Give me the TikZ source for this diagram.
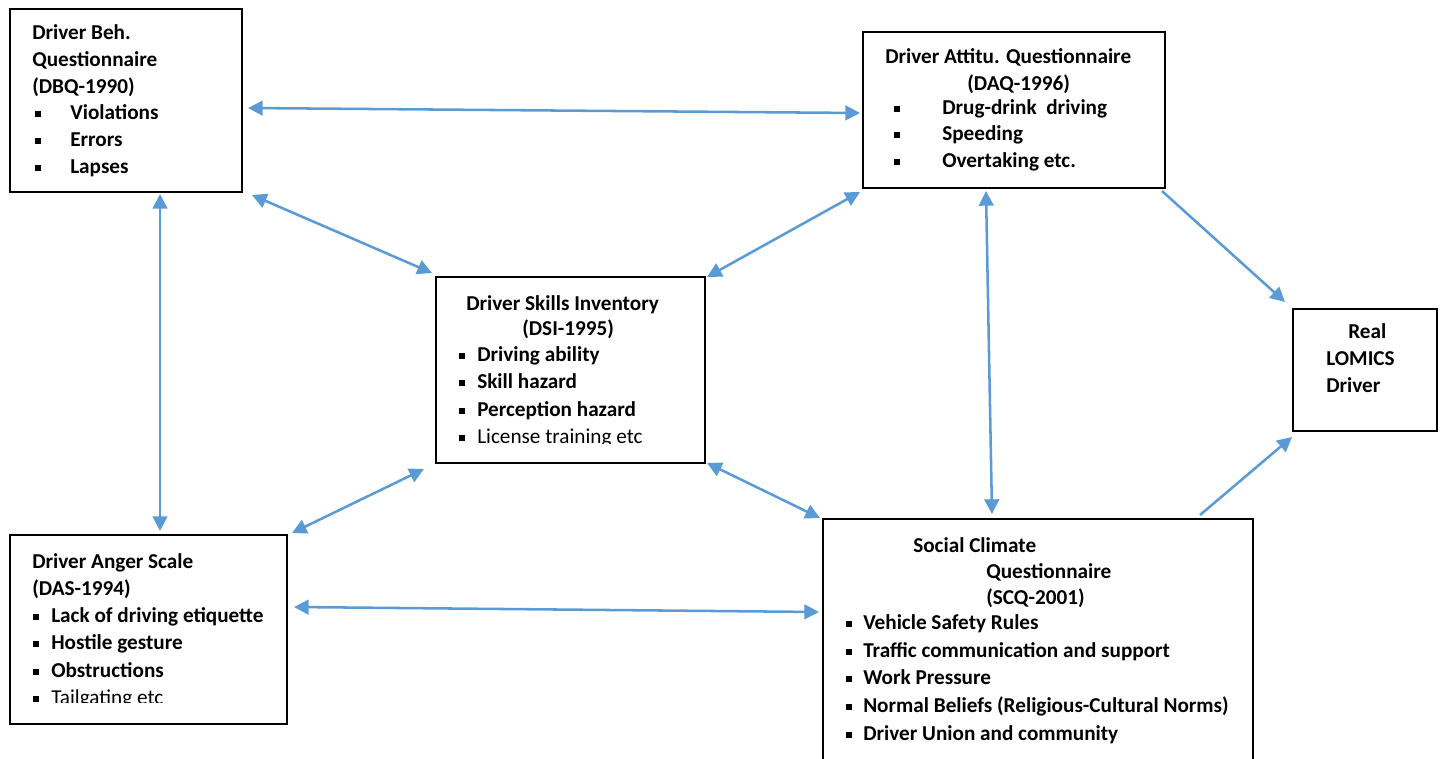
\documentclass[tikz,border=0pt]{standalone}
\usepackage{fontspec}
\setmainfont{Carlito}
\usetikzlibrary{arrows.meta,calc}
\definecolor{linkblue}{HTML}{5B9BD5}
\begin{document}
\begin{tikzpicture}[x=0.75pt,y=-0.75pt,
  box/.style={draw=black, line width=2pt, rectangle, anchor=north west,
    inner sep=0pt, outer sep=0pt},
  txt/.style={anchor=base west, inner sep=0pt, font=\bfseries\fontsize{15.9}{18}\selectfont},
  txtr/.style={anchor=base west, inner sep=0pt, font=\fontsize{15.9}{18}\selectfont},
  bul/.style={fill=black, rectangle, minimum size=4.8pt, inner sep=0pt},
  link/.style={draw=linkblue, line width=1.9pt,
    {Triangle[length=11pt,width=11pt]}-{Triangle[length=11pt,width=11pt]}},
  onelink/.style={draw=linkblue, line width=1.9pt, -{Triangle[length=11pt,width=11pt]}}]
\useasboundingbox (0,0) rectangle (1445,758);
\clip (0,0) rectangle (1445,758);

% boxes
\node[box, minimum width=174pt, minimum height=137.25pt] (dbq) at (10,9) {};
\node[box, minimum width=226.5pt, minimum height=117pt] (daq) at (863,32) {};
\node[box, minimum width=201.75pt, minimum height=139.5pt] (dsi) at (436,277) {};
\node[box, minimum width=207.75pt, minimum height=141.75pt] (das) at (10,535) {};
\node[box, minimum width=322.5pt, minimum height=195pt] (scq) at (823,519) {};
\node[box, minimum width=108pt, minimum height=91.5pt] (real) at (1293,309) {};

% Driver Behaviour Questionnaire
\node[txt] (dbq1) at (32,39) {Driver Beh.};
\node[txt] (dbq2) at (32,66) {Questionnaire};
\node[txt] (dbq3) at (32,93) {(DBQ-1990)};
\node[txt] (dbq4) at (70,119) {Violations};
\node[txt] (dbq5) at (70,146) {Errors};
\node[txt] (dbq6) at (70,173) {Lapses};
\foreach \yy [count=\i] in {119,146,173} \node[bul] (dbqb\i) at (38,\yy-5) {};

% Driver Attitude Questionnaire
\node[txt] (daq1) at (885,63) {Driver Attitu. Questionnaire};
\node[txt] (daq2) at (967,90) {(DAQ-1996)};
\node[txt] (daq3) at (942,114) {Drug-drink\ \ driving};
\node[txt] (daq4) at (942,140) {Speeding};
\node[txt] (daq5) at (942,167) {Overtaking etc.};
\foreach \yy [count=\i] in {114,140,167} \node[bul] (daqb\i) at (897,\yy-5) {};

% Driver Skills Inventory
\node[txt] (dsi1) at (466,310) {Driver Skills Inventory};
\node[txt] (dsi2) at (522,335) {(DSI-1995)};
\node[txt] (dsi3) at (477,361) {Driving ability};
\node[txt] (dsi4) at (477,388) {Skill hazard};
\node[txt] (dsi5) at (477,416) {Perception hazard};
\begin{scope}
  \clip (438,425) rectangle (703,443);
  \node[txtr] (dsi6) at (477,443) {License training etc};
\end{scope}
\foreach \yy [count=\i] in {361,388,416,443} \node[bul] (dsib\i) at (462,\yy-5) {};

% Driver Anger Scale
\node[txt] (das1) at (32,568) {Driver Anger Scale};
\node[txt] (das2) at (32,595) {(DAS-1994)};
\node[txt] (das3) at (51,622) {Lack of driving etiquette};
\node[txt] (das4) at (51,649) {Hostile gesture};
\node[txt] (das5) at (51,677) {Obstructions};
\begin{scope}
  \clip (12,684) rectangle (285,702);
  \node[txtr] (das6) at (51,704) {Tailgating etc};
\end{scope}
\foreach \yy [count=\i] in {622,649,677} \node[bul] (dasb\i) at (36,\yy-5) {};
\node[bul] (dasb4) at (36,699) {};

% Social Climate Questionnaire
\node[txt] (scq1) at (913,552) {Social Climate};
\node[txt] (scq2) at (986,578) {Questionnaire};
\node[txt] (scq3) at (986,604) {(SCQ-2001)};
\node[txt] (scq4) at (863,629) {Vehicle Safety Rules};
\node[txt] (scq5) at (863,657) {Traffic communication and support};
\node[txt] (scq6) at (863,684) {Work Pressure};
\node[txt] (scq7) at (863,712) {Normal Beliefs (Religious-Cultural Norms)};
\node[txt] (scq8) at (863,740) {Driver Union and community};
\foreach \yy [count=\i] in {629,657,684,712,740} \node[bul] (scqb\i) at (849,\yy-5) {};

% Real LOMICS Driver
\node[txt] (real1) at (1348,338) {Real};
\node[txt] (real2) at (1326,365) {LOMICS};
\node[txt] (real3) at (1326,392) {Driver};

% connectors
\draw[link] ($(dbq.north east)+(6,99)$) -- ($(daq.north west)+(-3,81)$);
\draw[link] ($(dbq.south east)+(10,3)$) -- ($(dsi.north west)+(-4,-4)$);
\draw[link] ($(daq.south west)+(-3,4)$) -- ($(dsi.north east)+(2,0)$);
\draw[link] ($(dbq.south west)+(150,2)$) -- ($(das.north west)+(150,-4)$);
\draw[link] ($(daq.south west)+(123,3)$) -- ($(scq.north west)+(169,-5)$);
\draw[onelink] ($(daq.south east)+(-3,3)$) -- ($(real.north west)+(-8,-7)$);
\draw[link] ($(dsi.south west)+(-12,6)$) -- ($(das.north east)+(5,-2)$);
\draw[link] ($(dsi.south east)+(2,0)$) -- ($(scq.north west)+(-3,-1)$);
\draw[link] ($(das.north east)+(7,72)$) -- ($(scq.north west)+(-4,93)$);
\draw[onelink] ($(scq.north east)+(-53,-4)$) -- ($(real.south west)+(-1,6)$);
\end{tikzpicture}
\end{document}
